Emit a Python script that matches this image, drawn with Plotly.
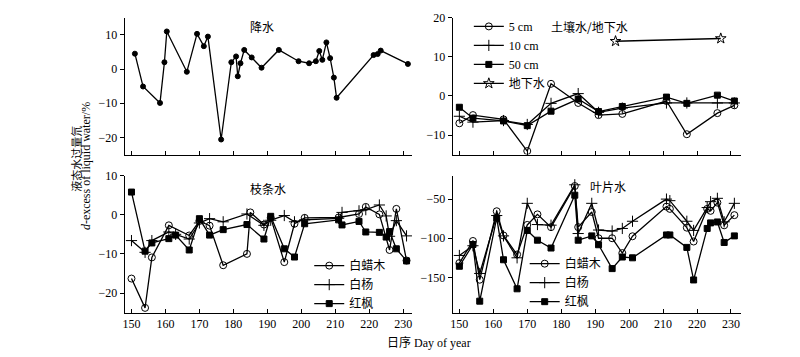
import plotly.graph_objects as go

# ---------------- data ----------------
precip_day = [151, 153.4, 158.4, 159.7, 160.4, 166.3, 169.3, 171.3, 172.5, 176.4, 179.4, 180.8,
              181.3, 182.1, 183.2, 185.4, 188.3, 193.4, 199.2, 202.3, 204.3, 205.3, 206.2, 207.4,
              208.5, 209.6, 210.4, 221.3, 222.5, 223.4, 231.4]
precip_val = [4.5, -5.1, -9.9, 2.0, 11.0, -0.8, 10.3, 6.7, 9.5, -20.6, 2.0, 3.7,
              -2.1, 1.7, 5.6, 3.4, 0.4, 5.6, 2.3, 1.7, 2.3, 5.3, 2.7, 7.8,
              3.2, -2.5, -8.4, 4.1, 4.4, 5.4, 1.5]

soil_day = [150, 154, 163, 170, 177, 185, 191, 198, 211, 217, 226, 231]
soil_5cm = [-7.0, -4.9, -6.0, -14.1, 3.1, -1.8, -4.9, -4.6, -1.3, -9.8, -4.4, -2.4]
soil_10cm = [-5.2, -6.7, -6.3, -7.3, -1.9, 0.6, -4.2, -3.1, -1.8, -1.8, -1.8, -1.8]
soil_50cm = [-2.9, -5.7, -6.4, -7.6, -3.9, -0.8, -4.0, -2.7, -0.3, -1.9, 0.2, -1.3]
gw_day = [196, 227]
gw_val = [14.0, 14.7]

ash_twig_day = [150, 154, 156, 161, 167, 170, 173, 177, 184, 185, 189, 191, 195, 198, 201,
                211, 217, 219, 223, 226, 228, 231]
ash_twig = [-16.3, -23.8, -10.9, -2.7, -5.3, -1.6, -2.8, -12.9, -10.0, 0.6, -2.5, -0.8, -12.1,
            -2.3, -0.8, -0.7, 0.2, 2.0, 0.1, -9.0, 1.5, -11.7]
poplar_twig_day = [150, 154, 156, 161, 163, 167, 170, 173, 177, 184, 189, 191, 195, 198, 201,
                   211, 212, 217, 219, 223, 225, 226, 228, 231]
poplar_twig = [-6.6, -9.6, -6.6, -4.4, -5.0, -6.2, -2.1, -1.0, -1.8, 0.2, -2.7, -1.4, -0.2,
               -1.8, -1.3, -0.9, 0.6, 1.0, 1.3, 2.5, -0.3, -5.5, -1.5, -5.4]
maple_twig_day = [150, 154, 156, 161, 163, 167, 170, 173, 177, 184, 189, 191, 195, 198, 201,
                  211, 212, 217, 219, 223, 225, 226, 228, 231]
maple_twig = [5.8, -9.3, -7.2, -6.1, -5.2, -9.0, -1.0, -5.2, -3.8, -2.5, -6.2, -0.4, -8.7,
              -10.8, -2.3, -1.3, -2.6, -1.7, -4.4, -4.5, -5.7, -4.3, -8.7, -11.8]

leaf_day = [150, 154, 156, 161, 163, 167, 170, 173, 177, 184, 185, 189, 191, 195, 198, 201,
            211, 212, 217, 219, 223, 224, 226, 228, 231]
ash_leaf = [-131.7, -103.5, -153.0, -65.5, -96.5, -120.8, -83.0, -69.5, -85.8, -33.3, -85.8,
            -66.5, -100.0, -100.0, -119.0, -97.5, -59.6, -62.5, -86.5, -104.2, -62.5, -65.0,
            -54.5, -83.5, -70.5]
poplar_leaf = [-122.0, -109.6, -145.0, -71.0, -97.0, -125.0, -55.4, -82.5, -83.3, -31.7, -94.0,
               -55.4, -89.5, -90.8, -87.5, -78.3, -50.0, -52.0, -78.3, -90.0, -60.8, -53.3,
               -49.0, -79.0, -55.4]
maple_leaf = [-135.8, -108.0, -180.4, -74.0, -127.5, -164.6, -90.0, -102.5, -112.5, -45.0,
              -102.5, -97.0, -108.3, -138.8, -124.0, -125.0, -95.8, -95.8, -111.7, -153.3,
              -87.5, -80.4, -79.2, -105.4, -97.0]

x_ticks = [150, 160, 170, 180, 190, 200, 210, 220, 230]

# ---------------- figure ----------------
W, H = 800, 357
FONT = "Liberation Serif, 'Noto Sans CJK SC', serif"
CJK = "'Noto Sans CJK SC', 'Liberation Serif', sans-serif"
BLACK = "#000000"
LW = 1.3

def px_x(p):
    return p / W

def px_y(p):
    return 1 - p / H

fig = go.Figure()

def line_trace(x, y, name, symbol, size, xa, ya, legend=None, filled=True, show=True):
    marker = dict(symbol=symbol, size=size, color=BLACK if filled else "white",
                  line=dict(color=BLACK, width=1))
    return go.Scatter(x=x, y=y, mode="lines+markers", name=name,
                      line=dict(color=BLACK, width=LW), marker=marker,
                      xaxis=xa, yaxis=ya, legend=legend, showlegend=show)

# precipitation
fig.add_trace(line_trace(precip_day, precip_val, "降水", "circle", 5, "x", "y", show=False))

# soil / groundwater
fig.add_trace(line_trace(soil_day, soil_5cm, "5 cm", "circle-open", 7, "x2", "y2", legend="legend"))
fig.add_trace(line_trace(soil_day, soil_10cm, "10 cm", "cross-thin-open", 8, "x2", "y2", legend="legend"))
fig.add_trace(line_trace(soil_day, soil_50cm, "50 cm", "square", 6, "x2", "y2", legend="legend"))
fig.add_trace(line_trace(gw_day, gw_val, "地下水", "star-open", 8, "x2", "y2", legend="legend"))

# twig water
fig.add_trace(line_trace(ash_twig_day, ash_twig, "白蜡木", "circle-open", 7, "x3", "y3", legend="legend2"))
fig.add_trace(line_trace(poplar_twig_day, poplar_twig, "白杨", "cross-thin-open", 8, "x3", "y3", legend="legend2"))
fig.add_trace(line_trace(maple_twig_day, maple_twig, "红枫", "square", 6, "x3", "y3", legend="legend2"))

# leaf water
fig.add_trace(line_trace(leaf_day, ash_leaf, "白蜡木", "circle-open", 7, "x4", "y4", legend="legend3"))
fig.add_trace(line_trace(leaf_day, poplar_leaf, "白杨", "cross-thin-open", 8, "x4", "y4", legend="legend3"))
fig.add_trace(line_trace(leaf_day, maple_leaf, "红枫", "square", 6, "x4", "y4", legend="legend3"))

left_dom = [px_x(123), px_x(411)]
right_dom = [px_x(451.7), px_x(741)]
top_dom = [px_y(150.5), px_y(11)]
bot_dom = [px_y(311.7), px_y(172)]

def xaxis(dom, anchor, rng, labels):
    return dict(domain=dom, anchor=anchor, range=rng, tickvals=x_ticks,
                showticklabels=labels, ticks="inside", ticklen=4, tickwidth=1,
                tickcolor=BLACK, showline=True, linecolor=BLACK, linewidth=1,
                showgrid=False, zeroline=False,
                tickfont=dict(family=FONT, size=12, color=BLACK))

def yaxis(dom, anchor, rng, tv):
    return dict(domain=dom, anchor=anchor, range=rng, tickvals=tv,
                ticks="outside", ticklen=4, tickwidth=1, tickcolor=BLACK,
                showline=True, linecolor=BLACK, linewidth=1,
                showgrid=False, zeroline=False,
                tickfont=dict(family=FONT, size=12, color=BLACK))

legend_common = dict(bgcolor="rgba(0,0,0,0)", borderwidth=0, xanchor="left", yanchor="top",
                     font=dict(family=FONT, size=12, color=BLACK), itemwidth=30,
                     tracegroupgap=0, itemclick=False, itemdoubleclick=False)

annots = [
    dict(text="降水", x=px_x(261), y=px_y(20)),
    dict(text="土壤水/地下水", x=px_x(589), y=px_y(20)),
    dict(text="枝条水", x=px_x(267), y=px_y(185)),
    dict(text="叶片水", x=px_x(608), y=px_y(183)),
]
annotations = [dict(a, xref="paper", yref="paper", showarrow=False,
                    xanchor="center", yanchor="middle",
                    font=dict(family=CJK, size=12, color=BLACK)) for a in annots]
annotations.append(dict(text="液态水过量氘", x=px_x(74), y=px_y(155), xref="paper", yref="paper",
                        showarrow=False, textangle=-90, xanchor="center", yanchor="middle",
                        font=dict(family=CJK, size=11, color=BLACK)))
annotations.append(dict(text="<i>d</i>-excess of liquid water/%", x=px_x(84.5), y=px_y(162),
                        xref="paper", yref="paper", showarrow=False, textangle=-90,
                        xanchor="center", yanchor="middle",
                        font=dict(family=FONT, size=12, color=BLACK)))
annotations.append(dict(text="日序 Day of year", x=px_x(428), y=px_y(342), xref="paper",
                        yref="paper", showarrow=False, xanchor="center", yanchor="middle",
                        font=dict(family=FONT, size=12, color=BLACK)))

fig.update_layout(
    width=W, height=H,
    margin=dict(l=0, r=0, t=0, b=0),
    paper_bgcolor="white", plot_bgcolor="white",
    font=dict(family=FONT, size=12, color=BLACK),
    xaxis=xaxis(left_dom, "y", [148, 232.6], False),
    yaxis=yaxis(top_dom, "x", [-25, 15], [-20, -10, 0, 10]),
    xaxis2=xaxis(right_dom, "y2", [148, 233], False),
    yaxis2=yaxis(top_dom, "x2", [-15, 20], [-10, 0, 10, 20]),
    xaxis3=xaxis(left_dom, "y3", [148, 232.6], True),
    yaxis3=yaxis(bot_dom, "x3", [-25, 10], [-20, -10, 0, 10]),
    xaxis4=xaxis(right_dom, "y4", [148, 233], True),
    yaxis4=yaxis(bot_dom, "x4", [-195, -20], [-150, -100, -50]),
    legend=dict(legend_common, x=px_x(468), y=px_y(5)),
    legend2=dict(legend_common, x=px_x(308), y=px_y(249)),
    legend3=dict(legend_common, x=px_x(524), y=px_y(247)),
    annotations=annotations,
)

fig.write_html("out.html",
               config={"displayModeBar": False},
               post_script="document.body.style.margin='0';document.body.style.overflow='hidden';")
